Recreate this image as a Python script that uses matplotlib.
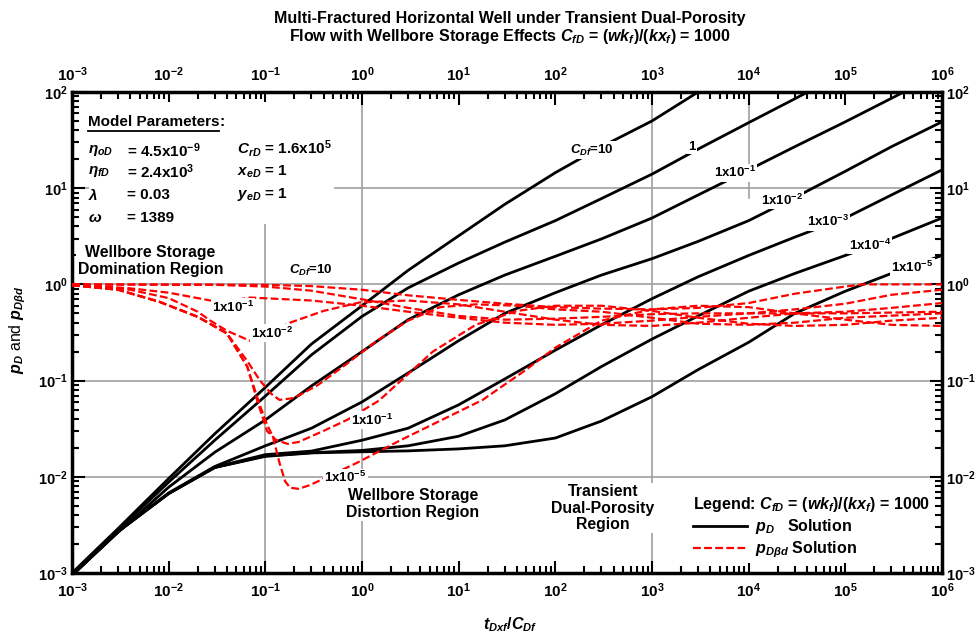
import numpy as np
import matplotlib
matplotlib.use("Agg")
import matplotlib.pyplot as plt
from matplotlib.ticker import FixedLocator, LogLocator, FuncFormatter, NullFormatter
from matplotlib.lines import Line2D
from matplotlib.patches import Rectangle

plt.rcParams['font.family'] = ['Liberation Sans', 'DejaVu Sans']
plt.rcParams['font.weight'] = 'bold'
plt.rcParams['mathtext.fontset'] = 'custom'
plt.rcParams['mathtext.rm'] = 'Liberation Sans:bold'
plt.rcParams['mathtext.it'] = 'Liberation Sans:italic:bold'
plt.rcParams['mathtext.bf'] = 'Liberation Sans:bold'

# p_D solution (black), read at fixed t_Dxf/C_Df values
x_black = [1e-3, 3e-3, 1e-2, 3e-2, 0.1, 0.3, 1, 3, 10, 30, 100, 300,
           1e3, 3e3, 1e4, 3e4, 1e5, 3e5, 1e6]
pD_10 = [0.001, 0.0029, 0.0096, 0.028, 0.085, 0.24, 0.6, 1.4, 3.2, 6.8, 14.5,
         27, 50, 100, 190, 330, 600, 1100, 2000]
pD_1 = [0.00097, 0.0028, 0.0088, 0.024, 0.069, 0.185, 0.465, 0.92, 1.67, 2.75,
        4.6, 7.8, 14, 25.5, 48, 85, 160, 300, 600]
pD_1e1 = [0.00095, 0.00265, 0.0078, 0.018, 0.039, 0.088, 0.2, 0.43, 0.78,
          1.25, 1.96, 2.97, 4.9, 8.5, 15.5, 27, 49, 86, 160]
pD_1e2 = [0.00095, 0.0027, 0.0068, 0.0128, 0.021, 0.032, 0.06, 0.12, 0.26,
          0.5, 0.82, 1.25, 1.85, 2.8, 4.6, 8.0, 15, 27, 49]
pD_1e3 = [0.00095, 0.0027, 0.0067, 0.0126, 0.017, 0.0185, 0.024, 0.032, 0.056,
          0.104, 0.207, 0.38, 0.71, 1.2, 2.0, 3.1, 4.9, 8.5, 15.5]
pD_1e4 = [0.00095, 0.0027, 0.0067, 0.0125, 0.0165, 0.0178, 0.0188, 0.021,
          0.0264, 0.039, 0.073, 0.14, 0.27, 0.47, 0.85, 1.3, 2.0, 3.0, 4.9]
pD_1e5 = [0.00095, 0.0027, 0.0067, 0.0125, 0.0163, 0.0177, 0.0182, 0.0186,
          0.0195, 0.021, 0.0253, 0.038, 0.068, 0.13, 0.25, 0.5, 0.85, 1.3, 2.0]

# p_Dbd solution (red dashed)
xr_10 = [1e-3, 0.1, 0.3, 1, 3, 10, 30, 100, 300, 1e3, 3e3, 1e4, 3e4, 1e5,
         1.5e5, 1e6]
br_10 = [1.0, 0.99, 0.96, 0.88, 0.77, 0.69, 0.63, 0.58, 0.56, 0.55, 0.57, 0.64,
         0.8, 0.95, 1.0, 1.0]
xr_1 = [1e-3, 0.03, 0.1, 0.3, 1, 3, 10, 30, 100, 300, 1e3, 3e3, 1e4, 3e4, 1e5,
        3e5, 1e6]
br_1 = [1.0, 0.99, 0.95, 0.86, 0.7, 0.57, 0.47, 0.43, 0.44, 0.46, 0.49, 0.5,
        0.5, 0.55, 0.63, 0.78, 0.88]
xr_1e1 = [1e-3, 0.004, 0.01, 0.02, 0.027, 0.045, 0.07, 0.3, 1, 3, 10, 30, 100,
          300, 1e3, 3e3, 1e4, 3e4, 1e5, 3e5, 1e6]
br_1e1 = [1.0, 0.91, 0.82, 0.72, 0.68, 0.68, 0.73, 0.68, 0.6, 0.52, 0.45, 0.4,
          0.38, 0.39, 0.42, 0.46, 0.5, 0.5, 0.52, 0.57, 0.64]
xr_1e2 = [1e-3, 0.002, 0.004, 0.01, 0.02, 0.027, 0.04, 0.069, 0.1, 0.18, 0.4,
          0.95, 3, 10, 30, 100, 300, 1e3, 3e3, 1e4, 3e4, 1e5, 1e6]
br_1e2 = [1.0, 0.95, 0.88, 0.72, 0.52, 0.42, 0.33, 0.26, 0.3, 0.4, 0.53, 0.65,
          0.68, 0.62, 0.52, 0.43, 0.38, 0.37, 0.4, 0.45, 0.5, 0.5, 0.52]
xr_1e3 = [1e-3, 0.003, 0.008, 0.02, 0.04, 0.065, 0.088, 0.115, 0.14, 0.2, 0.35,
          0.7, 1.43, 3, 6.4, 15, 40, 100, 300, 1e3, 3e3, 1e4, 3e4, 1e5, 1e6]
br_1e3 = [0.98, 0.88, 0.66, 0.46, 0.31, 0.16, 0.1, 0.073, 0.063, 0.066, 0.09,
          0.15, 0.26, 0.42, 0.58, 0.62, 0.6, 0.55, 0.52, 0.45, 0.39, 0.38, 0.4,
          0.45, 0.5]
xr_1e4 = [1e-3, 0.003, 0.008, 0.02, 0.04, 0.065, 0.082, 0.104, 0.13, 0.17, 0.22,
          0.4, 0.7, 1.5, 5.4, 15, 40, 100, 300, 1e3, 3e3, 1e4, 3e4, 1e5, 3e5, 1e6]
br_1e4 = [0.98, 0.88, 0.66, 0.46, 0.31, 0.14, 0.063, 0.03, 0.024, 0.022, 0.023,
          0.03, 0.039, 0.062, 0.2, 0.38, 0.53, 0.6, 0.6, 0.53, 0.45, 0.39, 0.37,
          0.38, 0.42, 0.45]
xr_1e5 = [1e-3, 0.003, 0.008, 0.02, 0.04, 0.065, 0.088, 0.104, 0.12, 0.14, 0.16,
          0.18, 0.22, 0.29, 0.89, 2.5, 17.7, 50, 100, 300, 1e3, 3e3, 1e4, 3e4,
          1e5, 3e5, 1e6]
br_1e5 = [0.98, 0.88, 0.66, 0.46, 0.31, 0.14, 0.055, 0.035, 0.026, 0.014, 0.009,
          0.0077, 0.0075, 0.0082, 0.014, 0.024, 0.063, 0.13, 0.22, 0.42, 0.55,
          0.6, 0.58, 0.5, 0.43, 0.38, 0.37]

decades_x = [-3, -2, -1, 0, 1, 2, 3, 4, 5, 6]
decades_y = [-3, -2, -1, 0, 1, 2]

fig = plt.figure(figsize=(9.79, 6.41), dpi=100)
ax = fig.add_axes([72 / 979, 68 / 641, 870 / 979, 481 / 641])

# grid lines (only some decades are drawn in the original)
for gy in [10, 1, 0.1, 0.01]:
    ax.axhline(gy, color='#a0a0a0', lw=1.2, zorder=1)
for gx in [0.1, 1, 1000]:
    ax.axvline(gx, color='#a0a0a0', lw=1.2, zorder=1)
ax.axvline(1e4, ymin=0.78, color='#a0a0a0', lw=1.2, zorder=1)

for y in [pD_10, pD_1, pD_1e1, pD_1e2, pD_1e3, pD_1e4, pD_1e5]:
    ax.plot(x_black, y, color='black', lw=2.0, zorder=3)

for xs, ys in [(xr_10, br_10), (xr_1, br_1), (xr_1e1, br_1e1), (xr_1e2, br_1e2),
               (xr_1e3, br_1e3), (xr_1e4, br_1e4), (xr_1e5, br_1e5)]:
    ax.plot(xs, ys, color='#ff0000', lw=1.6, ls=(0, (3.5, 1.5)), zorder=3)

ax.set_xscale('log')
ax.set_yscale('log')
ax.set_xlim(1e-3, 1e6)
ax.set_ylim(1e-3, 1e2)

fmt = FuncFormatter(lambda v, p: r'$10^{%d}$' % round(np.log10(v)))
ax.xaxis.set_major_locator(FixedLocator([10.0 ** d for d in decades_x]))
ax.yaxis.set_major_locator(FixedLocator([10.0 ** d for d in decades_y]))
ax.xaxis.set_minor_locator(LogLocator(base=10, subs=np.arange(2, 10), numticks=20))
ax.yaxis.set_minor_locator(LogLocator(base=10, subs=np.arange(2, 10), numticks=20))
ax.xaxis.set_major_formatter(fmt)
ax.yaxis.set_major_formatter(fmt)
ax.xaxis.set_minor_formatter(NullFormatter())
ax.yaxis.set_minor_formatter(NullFormatter())
ax.tick_params(which='both', direction='in', top=True, right=True,
               labeltop=True, labelright=True, width=1.5)
ax.tick_params(which='major', length=9)
ax.tick_params(which='minor', length=5)
ax.tick_params(axis='x', labelsize=11, pad=6)
ax.tick_params(axis='y', labelsize=10.5, pad=3)
for s in ax.spines.values():
    s.set_linewidth(2.5)

W = dict(facecolor='white', edgecolor='none', pad=1.0)
T = ax.transAxes

# model parameters box (white block hides the grid behind it)
ax.add_patch(Rectangle((0.019, 0.725), 0.282, 0.255, transform=T,
                       facecolor='white', edgecolor='none', zorder=4))
tp = ax.text(0.018, 0.938, 'Model Parameters', fontsize=11, transform=T,
             va='center', zorder=5)
fig.canvas.draw()
bb = tp.get_window_extent().transformed(T.inverted())
ax.text(bb.x1, 0.938, ':', fontsize=11, transform=T, va='center', zorder=5)
ax.plot([bb.x0, bb.x1], [0.918, 0.918], color='black', lw=1.3, transform=T,
        zorder=6)
ptxt = dict(fontsize=11, transform=T, va='center', zorder=5)
ax.text(0.018, 0.879, r'$\eta_{oD}$', **ptxt)
ax.text(0.063, 0.879, r'= 4.5x10$^{-9}$', **ptxt)
ax.text(0.018, 0.834, r'$\eta_{fD}$', **ptxt)
ax.text(0.063, 0.834, r'= 2.4x10$^{3}$', **ptxt)
ax.text(0.018, 0.786, r'$\lambda$', **ptxt)
ax.text(0.063, 0.786, '= 0.03', **ptxt)
ax.text(0.018, 0.738, r'$\omega$', **ptxt)
ax.text(0.063, 0.738, '= 1389', **ptxt)
ax.text(0.190, 0.883, r'$C_{rD}$ = 1.6x10$^{5}$', **ptxt)
ax.text(0.190, 0.834, r'$x_{eD}$ = 1', **ptxt)
ax.text(0.190, 0.786, r'$y_{eD}$ = 1', **ptxt)

# region labels
reg = dict(fontsize=11.4, transform=T, ha='center', va='center',
           linespacing=1.12, bbox=W, zorder=5)
ax.text(0.090, 0.649, 'Wellbore Storage\nDomination Region', **reg)
ax.text(0.392, 0.143, 'Wellbore Storage\nDistortion Region', **reg)
ax.text(0.610, 0.135, 'Transient\nDual-Porosity\nRegion', **reg)

# labels on the p_Dbd curves
lab = dict(fontsize=9.5, transform=T, ha='center', va='center', bbox=W, zorder=5)
ax.text(0.274, 0.630, r'$C_{Df}$=10', **lab)
ax.text(0.185, 0.553, r'1x10$^{-1}$', **lab)
ax.text(0.230, 0.499, r'1x10$^{-2}$', **lab)
ax.text(0.345, 0.318, r'1x10$^{-1}$', **lab)
ax.text(0.314, 0.198, r'1x10$^{-5}$', **lab)

# labels on the p_D curves
ax.text(0.598, 0.879, r'$C_{Df}$=10', **lab)
ax.text(0.713, 0.886, '1', **lab)
ax.text(0.762, 0.832, r'1x10$^{-1}$', **lab)
ax.text(0.816, 0.775, r'1x10$^{-2}$', **lab)
ax.text(0.869, 0.730, r'1x10$^{-3}$', **lab)
ax.text(0.917, 0.682, r'1x10$^{-4}$', **lab)
ax.text(0.966, 0.636, r'1x10$^{-5}$', **lab)

cfd = r'$C_{fD}$ = ($wk_f$)/($kx_f$) = 1000'
handles = [Line2D([], [], color='black', lw=2.0),
           Line2D([], [], color='#ff0000', lw=1.6, ls=(0, (3.5, 1.5)))]
leg = ax.legend(handles, [r'$p_D$   Solution', r'$p_{D\beta d}$ Solution'],
                title='Legend: ' + cfd,
                loc='lower right', bbox_to_anchor=(0.999, 0.004), frameon=True,
                fontsize=11.5, title_fontsize=11.5, handlelength=3.4,
                borderpad=0.2, labelspacing=0.2, handletextpad=0.5)
leg.get_frame().set_edgecolor('none')
leg.get_frame().set_facecolor('white')
leg.get_frame().set_alpha(1.0)
leg._legend_box.align = 'left'
leg.get_title().set_fontweight('bold')

fig.text(0.521, 1 - 18 / 641, 'Multi-Fractured Horizontal Well under Transient Dual-Porosity',
         ha='center', va='center', fontsize=11.5)
fig.text(0.521, 1 - 36 / 641, 'Flow with Wellbore Storage Effects ' + cfd,
         ha='center', va='center', fontsize=11.5)
fig.text(510 / 979, 1 - 625 / 641, r'$t_{Dxf}/C_{Df}$', ha='center',
         va='center', fontsize=11.5)
fig.text(18 / 979, 1 - 330 / 641, r'$p_D$ and $p_{D\beta d}$', ha='center',
         va='center', rotation=90, fontsize=11.5, fontweight='normal')

fig.savefig('out.png', dpi=100)
